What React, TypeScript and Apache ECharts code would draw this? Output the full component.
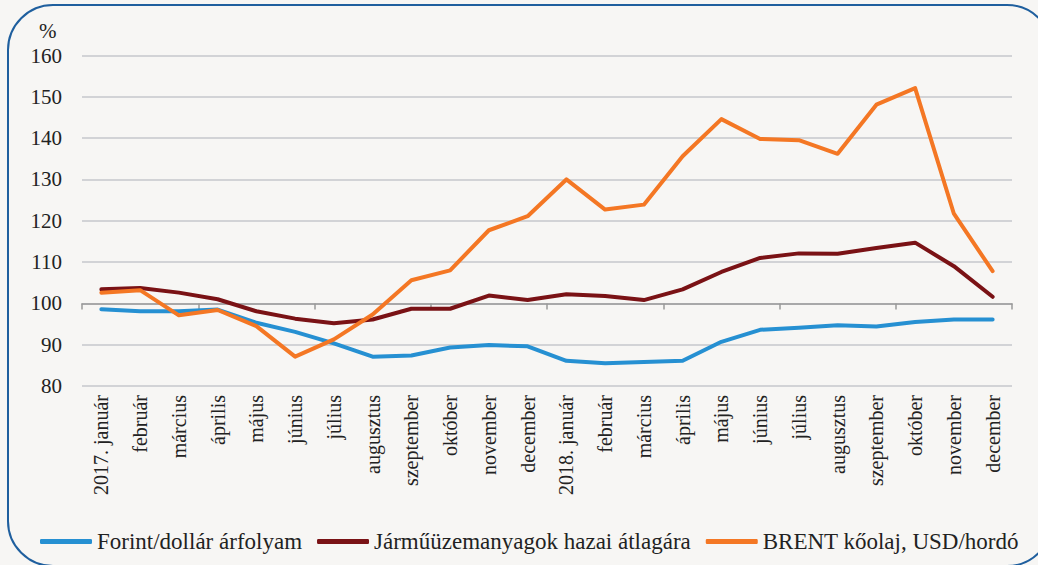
import React, { useEffect, useRef } from "react";
import * as echarts from "echarts";

const months = [
  "2017. január", "február", "március", "április", "május", "június", "július",
  "augusztus", "szeptember", "október", "november", "december",
  "2018. január", "február", "március", "április", "május", "június", "július",
  "augusztus", "szeptember", "október", "november", "december",
];

const forintDollar = [
  98.6, 98.1, 98.1, 98.5, 95.3, 93.1, 90.3, 87.1, 87.4, 89.3, 89.9, 89.6,
  86.1, 85.5, 85.8, 86.1, 90.7, 93.6, 94.1, 94.7, 94.4, 95.5, 96.1, 96.1,
];

const fuelPrice = [
  103.4, 103.7, 102.6, 101.0, 98.1, 96.3, 95.2, 96.1, 98.7, 98.7, 101.9, 100.8,
  102.2, 101.8, 100.8, 103.4, 107.6, 111.0, 112.1, 112.0, 113.4, 114.7, 109.0, 101.6,
];

const brent = [
  102.6, 103.2, 97.1, 98.4, 94.5, 87.1, 91.3, 97.3, 105.6, 108.0, 117.7, 121.1,
  130.0, 122.7, 123.9, 135.6, 144.6, 139.8, 139.5, 136.2, 148.1, 152.1, 121.7, 107.8,
];

const seriesNames = [
  "Forint/dollár árfolyam",
  "Járműüzemanyagok hazai átlagára",
  "BRENT kőolaj, USD/hordó",
];

const yMin = 80;
const yMax = 160;
const yStep = 10;
const crossValue = 100;

export default function App() {
  const ref = useRef<HTMLDivElement>(null);

  useEffect(() => {
    if (!ref.current) return;
    const chart = echarts.init(ref.current, undefined, { renderer: "svg" });
    const font = "Liberation Serif";
    const gridTop = 55.5;
    const gridBottom = 179;
    const gridHeight = 565 - gridTop - gridBottom;
    const crossOffset = -((crossValue - yMin) / (yMax - yMin)) * gridHeight;

    chart.setOption({
      animation: false,
      backgroundColor: "#f7f6f4",
      textStyle: { fontFamily: font },
      graphic: [
        {
          type: "rect",
          shape: { x: 8, y: 5, width: 1044, height: 561, r: 45 },
          style: { fill: "none", stroke: "#1f5f9e", lineWidth: 2 },
          z: 100,
        },
        {
          type: "text",
          left: 39,
          top: 20,
          style: { text: "%", fontFamily: font, fontSize: 21, fill: "#222" },
        },
      ],
      grid: { left: 82, right: 26, top: gridTop, bottom: gridBottom },
      legend: {
        left: 40,
        right: 0,
        top: 530,
        padding: 0,
        itemWidth: 52,
        itemHeight: 5,
        itemGap: 15,
        icon: "roundRect",
        textStyle: { fontFamily: font, fontSize: 23, color: "#222" },
        data: seriesNames,
      },
      xAxis: [
        {
          type: "category",
          data: months,
          boundaryGap: true,
          axisLine: { show: false },
          axisTick: { show: false },
          axisLabel: {
            rotate: 90,
            margin: 9,
            interval: 0,
            fontFamily: font,
            fontSize: 20,
            color: "#222",
          },
        },
        {
          type: "category",
          data: months,
          boundaryGap: true,
          position: "bottom",
          offset: crossOffset,
          axisLine: { show: true, lineStyle: { color: "#9a9a9a", width: 1.5 } },
          axisTick: { show: true, length: 6, lineStyle: { color: "#9a9a9a", width: 1.5 } },
          axisLabel: { show: false },
        },
      ],
      yAxis: {
        type: "value",
        min: yMin,
        max: yMax,
        interval: yStep,
        axisLine: { show: false },
        axisTick: { show: false },
        axisLabel: { margin: 20, fontFamily: font, fontSize: 21, color: "#222" },
        splitLine: { lineStyle: { color: "#c6c7cc", width: 1.5 } },
      },
      series: [
        {
          name: seriesNames[0],
          type: "line",
          data: forintDollar,
          symbol: "none",
          lineStyle: { width: 4, color: "#2690d2", cap: "round", join: "round" },
          itemStyle: { color: "#2690d2" },
        },
        {
          name: seriesNames[1],
          type: "line",
          data: fuelPrice,
          symbol: "none",
          lineStyle: { width: 4, color: "#7a1215", cap: "round", join: "round" },
          itemStyle: { color: "#7a1215" },
        },
        {
          name: seriesNames[2],
          type: "line",
          data: brent,
          symbol: "none",
          lineStyle: { width: 4, color: "#f47724", cap: "round", join: "round" },
          itemStyle: { color: "#f47724" },
        },
      ],
    });

    return () => chart.dispose();
  }, []);

  return (
    <div
      ref={ref}
      style={{ position: "fixed", left: 0, top: 0, width: 1038, height: 565 }}
    />
  );
}
